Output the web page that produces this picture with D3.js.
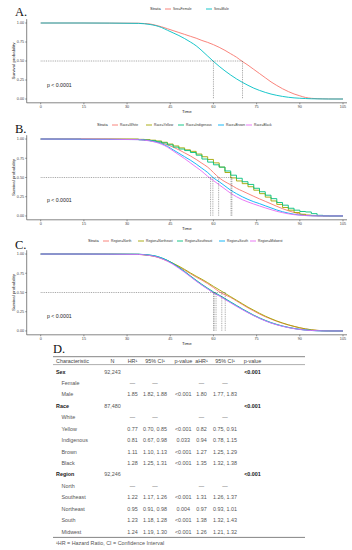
<!DOCTYPE html>
<html>
<head>
<meta charset="utf-8">
<script src="https://cdn.jsdelivr.net/npm/d3@7"></script>
<style>
  body { margin: 0; background: #fff; }
  svg { display: block; }
</style>
</head>
<body>
<div id="chart"></div>
<script>
// ---- data ----
// time grid (years), survival value at each time
const times = [0, 14, 34, 36, 38, 40, 42, 44, 46, 48, 50, 52, 54, 56, 58, 60, 62, 64, 66, 68, 70, 72, 74, 76, 78, 80, 82, 84, 86, 88, 90, 92, 94, 96, 98, 100, 105]

// A. sex
const sexStrata = ["Sex=Female", "Sex=Male"]
const sexFemale = [1, 1, .997, .993, .987, .97, .95, .925, .9, .875, .85, .825, .8, .77, .745, .715, .68, .64, .595, .55, .495, .445, .39, .335, .28, .225, .178, .135, .098, .066, .042, .02, .009, .004, .002, .001, 0]
const sexMale = [1, 1, .995, .99, .98, .965, .94, .905, .87, .835, .795, .75, .7, .635, .565, .495, .43, .37, .315, .265, .22, .18, .143, .113, .087, .065, .048, .034, .023, .015, .01, .006, .003, .002, .001, 0, 0]
const sexMedians = [70.1, 60]

// B. race
const raceStrata = ["Race=White", "Race=Yellow", "Race=Indigenous", "Race=Brown", "Race=Black"]
const raceWhite = [1, 1, .995, .99, .983, .97, .95, .925, .895, .86, .82, .78, .735, .685, .635, .565, .495, .445, .405, .36, .325, .29, .255, .222, .19, .158, .125, .095, .068, .045, .025, .013, .006, .003, .001, 0, 0]
const raceYellow = [1, 1, .996, .992, .985, .975, .958, .935, .91, .885, .86, .84, .805, .77, .735, .69, .635, .565, .495, .455, .42, .38, .335, .29, .245, .195, .15, .11, .075, .045, .022, .01, .004, .002, 0, 0, 0]
const raceIndigenous = [1, .995, .99, .985, .978, .965, .95, .925, .895, .87, .85, .825, .79, .74, .7, .665, .635, .585, .53, .49, .445, .41, .36, .315, .27, .225, .175, .14, .1, .075, .058, .052, .03, .008, .002, 0, 0]
const raceBrown = [1, .997, .993, .987, .978, .963, .94, .905, .86, .815, .77, .725, .675, .62, .565, .495, .445, .39, .335, .29, .25, .215, .185, .16, .132, .105, .078, .055, .037, .022, .012, .006, .003, .001, 0, 0, 0]
const raceBlack = [1, 1, .992, .985, .975, .958, .932, .895, .845, .795, .745, .69, .635, .58, .515, .46, .405, .35, .295, .25, .212, .182, .155, .13, .105, .082, .06, .043, .028, .017, .01, .005, .002, .001, 0, 0, 0]
const raceMedians = [61.8, 66.1, 66.4, 59.8, 59]

// C. region
const regionStrata = ["Region=North", "Region=Northeast", "Region=Southeast", "Region=South", "Region=Midwest"]
const regionNorth = [1, 1, .995, .99, .98, .965, .94, .91, .875, .835, .79, .745, .7, .66, .615, .565, .51, .47, .435, .39, .345, .3, .26, .22, .185, .155, .125, .1, .078, .058, .04, .026, .015, .007, .003, .001, 0]
const regionNortheast = [1, 1, .996, .99, .982, .968, .945, .915, .88, .842, .8, .755, .712, .672, .628, .58, .535, .49, .445, .4, .355, .31, .27, .23, .193, .16, .13, .104, .08, .06, .042, .027, .016, .008, .003, .001, 0]
const regionSoutheast = [1, 1, .997, .993, .986, .973, .95, .918, .876, .827, .773, .716, .66, .606, .556, .508, .466, .422, .377, .332, .288, .246, .206, .17, .138, .109, .085, .064, .047, .033, .021, .013, .007, .003, .001, 0, 0]
const regionSouth = [1, 1, .997, .993, .985, .972, .948, .915, .872, .822, .768, .71, .652, .598, .548, .497, .46, .415, .37, .325, .282, .24, .2, .165, .133, .105, .082, .062, .045, .031, .02, .012, .006, .003, .001, 0, 0]
const regionMidwest = [1, 1, .995, .99, .98, .965, .94, .907, .865, .815, .762, .705, .648, .595, .545, .495, .455, .41, .365, .32, .278, .237, .198, .163, .131, .103, .08, .06, .044, .03, .019, .011, .006, .003, .001, 0, 0]
const regionMedians = [62.9, 64.1, 60.9, 60.1, 60.2]

const xTicks = [0, 15, 30, 45, 60, 75, 90, 105]
const yTicks = [0, 0.25, 0.5, 0.75, 1]
const pText = "p < 0.0001"

// D. table
const tableHeader = ["Characteristic", "N", "HR\u00b9", "95% CI\u00b9", "p-value", "aHR\u00b9", "95% CI\u00b9", "p-value"]
const rowLabel = ["Sex", "Female", "Male", "Race", "White", "Yellow", "Indigenous", "Brown", "Black", "Region", "North", "Southeast", "Northeast", "South", "Midwest"]
const rowIsVar = [true, false, false, true, false, false, false, false, false, true, false, false, false, false, false]
const rowN = ["92,243", "", "", "87,480", "", "", "", "", "", "92,246", "", "", "", "", ""]
const rowHR = ["", "\u2014", "1.85", "", "\u2014", "0.77", "0.81", "1.11", "1.28", "", "\u2014", "1.22", "0.95", "1.23", "1.24"]
const rowCI = ["", "\u2014", "1.82, 1.88", "", "\u2014", "0.70, 0.85", "0.67, 0.98", "1.10, 1.13", "1.25, 1.31", "", "\u2014", "1.17, 1.26", "0.91, 0.98", "1.18, 1.28", "1.19, 1.30"]
const rowP = ["", "", "<0.001", "", "", "<0.001", "0.033", "<0.001", "<0.001", "", "", "<0.001", "0.004", "<0.001", "<0.001"]
const rowAHR = ["", "\u2014", "1.80", "", "\u2014", "0.82", "0.94", "1.27", "1.35", "", "\u2014", "1.31", "0.97", "1.38", "1.26"]
const rowACI = ["", "\u2014", "1.77, 1.83", "", "\u2014", "0.75, 0.91", "0.78, 1.15", "1.25, 1.29", "1.32, 1.38", "", "\u2014", "1.26, 1.37", "0.93, 1.01", "1.32, 1.43", "1.21, 1.32"]
const rowP2 = ["<0.001", "", "", "<0.001", "", "", "", "", "", "<0.001", "", "", "", "", ""]
const tableNote = "\u00b9HR = Hazard Ratio, CI = Confidence Interval"

// ---- layout ----
const W = 352, H = 550
const hue2 = ["#F8766D", "#00BFC4"]
const hue5 = ["#F8766D", "#A3A500", "#00BF7D", "#00B0F6", "#E76BF3"]
const sansFont = "'Liberation Sans', Arial, sans-serif"

// legend: x of "Strata" and of each key line
const panels = [
    { letter: "A.", letterY: 15.5, legendY: 9, top: 19.2, bottom: 102.8, pY: 86.5,
      legendX: 150, keyX: [165, 206],
      strata: sexStrata, series: [sexFemale, sexMale], stepped: [false, false], medians: sexMedians, colors: hue2 },
    { letter: "B.", letterY: 133, legendY: 125, top: 135.2, bottom: 219.8, pY: 202,
      legendX: 97, keyX: [112, 146, 178, 218, 246],
      strata: raceStrata, series: [raceWhite, raceYellow, raceIndigenous, raceBrown, raceBlack], stepped: [false, true, true, false, false], medians: raceMedians, colors: hue5 },
    { letter: "C.", letterY: 248.5, legendY: 241, top: 250.2, bottom: 334.8, pY: 318,
      legendX: 88, keyX: [103, 138, 177, 219, 250],
      strata: regionStrata, series: [regionNorth, regionNortheast, regionSoutheast, regionSouth, regionMidwest], stepped: [false, false, false, false, false], medians: regionMedians, colors: hue5 }
]

const svg = d3.select("#chart").append("svg")
    .attr("width", W)
    .attr("height", H)
    .style("font-family", sansFont)

const axisLeft = 26.7, axisRight = 347
const x = d3.scaleLinear().domain([0, 105]).range([40.7, 343])

panels.forEach(function(p) {
    const y = d3.scaleLinear().domain([-0.05, 1.05]).range([p.bottom, p.top])
    const g = svg.append("g")

    // panel letter
    g.append("text")
        .attr("x", 15)
        .attr("y", p.letterY)
        .style("font-family", "'Liberation Serif', 'Times New Roman', serif")
        .style("font-size", "12.5px")
        .style("fill", "#111")
        .text(p.letter)

    // axes lines
    g.append("line")
        .attr("x1", axisLeft).attr("x2", axisLeft)
        .attr("y1", p.top).attr("y2", p.bottom)
        .attr("stroke", "#333").attr("stroke-width", 0.6)
    g.append("line")
        .attr("x1", axisLeft).attr("x2", axisRight)
        .attr("y1", p.bottom).attr("y2", p.bottom)
        .attr("stroke", "#333").attr("stroke-width", 0.6)

    // y ticks
    yTicks.forEach(function(t) {
        g.append("line")
            .attr("x1", axisLeft - 1.5).attr("x2", axisLeft)
            .attr("y1", y(t)).attr("y2", y(t))
            .attr("stroke", "#333").attr("stroke-width", 0.5)
        g.append("text")
            .attr("x", axisLeft - 2.5)
            .attr("y", y(t))
            .attr("dy", "0.35em")
            .attr("text-anchor", "end")
            .style("font-size", "3.8px")
            .style("fill", "#444")
            .text(d3.format(".2f")(t))
    })
    // x ticks
    xTicks.forEach(function(t) {
        g.append("line")
            .attr("x1", x(t)).attr("x2", x(t))
            .attr("y1", p.bottom).attr("y2", p.bottom + 1.5)
            .attr("stroke", "#333").attr("stroke-width", 0.5)
        g.append("text")
            .attr("x", x(t))
            .attr("y", p.bottom + 5)
            .attr("text-anchor", "middle")
            .style("font-size", "3.8px")
            .style("fill", "#444")
            .text(t)
    })
    g.append("text")
        .attr("x", (axisLeft + axisRight) / 2)
        .attr("y", p.bottom + 10.3)
        .attr("text-anchor", "middle")
        .style("font-size", "4.4px")
        .style("fill", "#222")
        .text("Time")
    g.append("text")
        .attr("transform", "translate(14.5," + y(0.5) + ") rotate(-90)")
        .attr("text-anchor", "middle")
        .style("font-size", "4.4px")
        .style("fill", "#222")
        .text("Survival probability")

    // survival curves
    p.series.forEach(function(s, i) {
        const line = d3.line()
            .x(function(d) { return x(d.t) })
            .y(function(d) { return y(d.s) })
            .curve(p.stepped[i] ? d3.curveStepAfter : d3.curveMonotoneX)
        const pts = times.map(function(t, k) { return { t: t, s: s[k] } })
        g.append("path")
            .datum(pts)
            .attr("d", line)
            .attr("fill", "none")
            .attr("stroke", p.colors[i])
            .attr("stroke-width", 0.9)
    })

    // median lines, on top of the curves
    const maxMedian = d3.max(p.medians)
    g.append("line")
        .attr("x1", x(0)).attr("x2", x(maxMedian))
        .attr("y1", y(0.5)).attr("y2", y(0.5))
        .attr("stroke", "#444").attr("stroke-width", 0.5)
        .attr("stroke-dasharray", "0.9,0.9")
    p.medians.forEach(function(m) {
        g.append("line")
            .attr("x1", x(m)).attr("x2", x(m))
            .attr("y1", y(0.5)).attr("y2", y(0))
            .attr("stroke", "#444").attr("stroke-width", 0.5)
            .attr("stroke-dasharray", "0.9,0.9")
    })

    // p value
    g.append("text")
        .attr("x", 47)
        .attr("y", p.pY)
        .style("font-size", "5.2px")
        .style("fill", "#222")
        .text(pText)

    // legend
    g.append("text")
        .attr("x", p.legendX).attr("y", p.legendY).attr("dy", "0.35em")
        .style("font-size", "4px").style("fill", "#222")
        .text("Strata")
    p.strata.forEach(function(name, i) {
        g.append("line")
            .attr("x1", p.keyX[i]).attr("x2", p.keyX[i] + 6)
            .attr("y1", p.legendY).attr("y2", p.legendY)
            .attr("stroke", p.colors[i]).attr("stroke-width", 0.9)
        g.append("text")
            .attr("x", p.keyX[i] + 8).attr("y", p.legendY).attr("dy", "0.35em")
            .style("font-size", "3.3px").style("fill", "#333")
            .text(name)
    })
})

// ---- D. table ----
const tg = svg.append("g")
tg.append("text")
    .attr("x", 53)
    .attr("y", 352.5)
    .style("font-family", "'Liberation Serif', 'Times New Roman', serif")
    .style("font-size", "12.5px")
    .style("fill", "#111")
    .text("D.")

const tableLeft = 53, tableRight = 305
const colX = [56, 112.5, 132.5, 155, 183.3, 201.5, 225, 252.5]
const headerY = 360.7
const rowY = d3.scaleLinear().domain([0, rowLabel.length - 1]).range([371.7, 531.7])
const cellFont = "5.4px"

tg.append("line")
    .attr("x1", tableLeft).attr("x2", tableRight)
    .attr("y1", 356.7).attr("y2", 356.7)
    .attr("stroke", "#666").attr("stroke-width", 0.8)
tg.append("line")
    .attr("x1", tableLeft).attr("x2", tableRight)
    .attr("y1", 364.6).attr("y2", 364.6)
    .attr("stroke", "#777").attr("stroke-width", 0.6)
tg.append("line")
    .attr("x1", tableLeft).attr("x2", tableRight)
    .attr("y1", 537.4).attr("y2", 537.4)
    .attr("stroke", "#666").attr("stroke-width", 0.8)

tableHeader.forEach(function(h, j) {
    tg.append("text")
        .attr("x", colX[j])
        .attr("y", headerY)
        .attr("dy", "0.35em")
        .attr("text-anchor", j === 0 ? "start" : "middle")
        .style("font-size", cellFont)
        .style("fill", "#444")
        .text(h)
})

const cols = [rowN, rowHR, rowCI, rowP, rowAHR, rowACI, rowP2]
rowLabel.forEach(function(lab, i) {
    tg.append("text")
        .attr("x", rowIsVar[i] ? colX[0] : colX[0] + 5.5)
        .attr("y", rowY(i))
        .attr("dy", "0.35em")
        .style("font-size", cellFont)
        .style("font-weight", rowIsVar[i] ? "bold" : "normal")
        .style("fill", rowIsVar[i] ? "#222" : "#555")
        .text(lab)
    cols.forEach(function(col, j) {
        if (col[i] === "") return
        tg.append("text")
            .attr("x", colX[j + 1])
            .attr("y", rowY(i))
            .attr("dy", "0.35em")
            .attr("text-anchor", "middle")
            .style("font-size", cellFont)
            .style("font-weight", j === 6 ? "bold" : "normal")
            .style("fill", j === 6 ? "#222" : "#555")
            .text(col[i])
    })
})

tg.append("text")
    .attr("x", 56)
    .attr("y", 543.3)
    .attr("dy", "0.35em")
    .style("font-size", cellFont)
    .style("fill", "#555")
    .text(tableNote)
</script>
</body>
</html>
